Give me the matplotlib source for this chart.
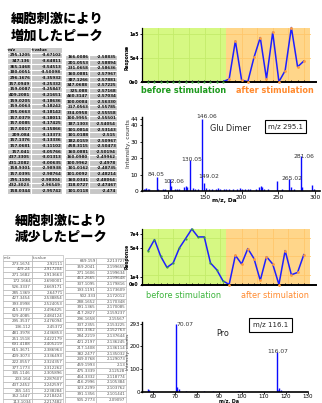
import matplotlib
matplotlib.use('Agg')
import matplotlib.pyplot as plt
from matplotlib.patches import Rectangle
import numpy as np

W, H, DPI = 322, 403, 100

# ---------------- data ----------------
inc_mz_a = ['295.1205', '347.136', '365.1468', '180.0051', '296.1676', '157.0949', '159.0087',
            '409.2081', '159.0205', '159.0063', '195.0663', '157.0379', '157.0085', '157.0017',
            '209.084', '157.1376', '157.0681', '157.041', '437.3305', '431.2082', '158.9301',
            '157.0395', '295.1106', '432.3023', '158.0344']
inc_t_a = ['-3.67102', '-3.64811', '-3.54513', '-3.50098', '-3.35932', '-3.25332', '-3.25847',
           '-3.21651', '-3.18636', '-3.18242', '-3.18142', '-3.18011', '-3.17425', '-3.15866',
           '-3.13373', '-3.13336', '-3.11102', '-3.05766', '-3.01313', '-3.00635', '-2.98938',
           '-2.98764', '-2.98304', '-2.96549', '-2.95742']
inc_mz_b = ['166.0086', '201.0553', '231.0658', '160.0881', '387.1266', '347.0688', '325.088',
            '460.3147', '100.0084', '217.0563', '334.0958', '100.9955', '187.1303', '101.0814',
            '101.0188', '182.0159', '458.3115', '160.0881', '160.0980', '100.9962', '101.0162',
            '101.0092', '160.0341', '118.0727', '101.0118']
inc_t_b = ['-2.58835', '-2.58894', '-2.58636', '-2.57967', '-2.57881', '-2.57225', '-2.57168',
           '-2.57034', '-2.56330', '-2.55785', '-2.55558', '-2.55501', '-2.54054', '-2.53143',
           '-2.515', '-2.50967', '-2.50473', '-2.50194', '-2.49962', '-2.4978', '-2.48735',
           '-2.48214', '-2.48064', '-2.47467', '-2.474']

dec_mz_a = ['273.1674', '429.24', '271.1682', '172.1664', '526.3337', '285.1369', '427.3454',
            '393.0998', '415.3739', '529.4085', '295.3537', '136.112', '481.3978', '251.1518',
            '691.4188', '615.3671', '409.3073', '222.0557', '377.1773', '345.1146', '203.164',
            '437.2452', '265.141', '352.1447', '113.1034']
dec_t_a = ['2.92111', '2.917204', '2.913663', '2.690001', '2.669171', '2.64771', '2.538854',
           '2.524053', '2.496425', '2.484124', '2.476094', '2.45372', '2.436853', '2.422179',
           '2.405219', '2.386963', '2.336493', '2.324357', '2.312262', '2.305896', '2.287607',
           '2.242597', '2.238284', '2.218424', '2.217482']
dec_mz_b = ['669.159', '359.2041', '271.1606', '463.2665', '337.1095', '193.1191', '502.333',
            '288.1652', '391.1365', '417.2827', '296.1658', '337.2355', '531.3362', '284.2219',
            '421.2197', '217.1408', '382.2477', '249.0768', '459.1993', '475.3339', '464.3332',
            '416.2996', '323.2299', '391.1356', '505.2773']
dec_t_b = ['2.213727', '2.199655', '2.199634', '2.199648', '2.179816', '2.173609', '2.172012',
           '2.170348', '2.170085', '2.159237', '2.15567', '2.153225', '2.152763', '2.137644',
           '2.136245', '2.136114', '2.135032', '2.129073', '2.13', '2.12528', '2.118774',
           '2.105384', '2.103762', '2.101441', '2.09097']

n_before = 13
up_response = [0, 0, 0, 0, 0, 0, 0, 0, 0, 0, 0, 0, 0,
               5500, 85000, 3500, 0, 51000, 92000, 6000, 103000, 0, 23000, 113000, 31000, 43000]
down_response = [47000, 62300, 39100, 23700, 29800, 50700, 63700, 77000, 66000, 66000, 29800, 20500, 5100,
                 0, 40500, 28400, 49800, 35800, 5600, 38600, 28400, 0, 47000, 13500, 16700, 41400]

glu_mz = [66, 68.5, 70, 72, 74, 84.05, 86, 92, 94, 96, 102.06, 104, 109, 112, 115, 122, 124, 126,
          130.05, 133, 137, 140, 146.06, 149.02, 151, 156, 160, 165, 168, 170, 176, 179, 183, 188,
          194, 198, 201, 205, 209, 212, 220, 224, 226, 228, 231, 236, 248, 255, 265.02, 267, 272,
          281.06, 283, 296, 299]
glu_int = [1.5, 1.2, 1.8, 1.0, 1.4, 8.5, 1.0, 1.2, 0.8, 1.3, 7.0, 3.0, 1.0, 1.3, 1.0, 2.5, 3.2, 2.2,
           19.0, 2.0, 1.2, 1.5, 44.0, 5.0, 2.0, 1.3, 1.5, 1.2, 1.6, 1.2, 1.0, 1.4, 1.2, 1.5,
           1.3, 1.6, 1.2, 1.4, 1.1, 1.3, 1.0, 2.5, 3.0, 2.2, 1.4, 1.0, 6.0, 1.5, 7.5, 2.5, 1.4,
           21.0, 2.5, 3.5, 1.5]
glu_labels = ['84.05', '102.06', '130.05', '146.06', '149.02', '265.02', '281.06']

pro_mz = [57.5, 58.1, 60.0, 70.07, 70.9, 71.6, 75.0, 83.1, 87.2, 98.2, 98.8, 116.07, 116.6, 117.07,
          117.8, 121.0]
pro_int = [10, 6, 3, 293, 22, 12, 3, 4, 5, 5, 3, 170, 8, 18, 8, 3]
pro_labels = ['70.07', '116.07']

up_yticks = [0, 50000, 100000]
up_yticklabels = ['0e0', '5e4', '1e5']
down_yticks = [0, 10000, 50000, 70000]
down_yticklabels = ['0e0', '1e4', '5e4', '7e4']

# ---------------- styles ----------------
GREEN_BG = '#d6f883'
GREEN_GRID = '#c3ec6a'
ORANGE_BG = '#ffd68a'
ORANGE_GRID = '#ffc76c'
LINE_BLUE = '#1f1fff'
GREEN_MK = '#3aa23a'
ORANGE_MK = '#ff9a3a'
BAR_BLUE = '#0a0aff'
JP = ['Noto Sans CJK JP', 'DejaVu Sans']

fig = plt.figure(figsize=(W / DPI, H / DPI), dpi=DPI)
fig.patch.set_facecolor('white')


def px_axes(x0, y0, x1, y1, **kw):
    return fig.add_axes([x0 / W, 1 - y1 / H, (x1 - x0) / W, (y1 - y0) / H], **kw)


ov = px_axes(0, 0, W, H)
ov.set_xlim(0, W)
ov.set_ylim(H, 0)
ov.axis('off')
ov.set_zorder(0)

# titles
for (tx, ty, s) in [(57, 19, '細胞刺激により'), (57, 36, '増加したピーク'),
                    (61, 221, '細胞刺激により'), (61, 237, '減少したピーク')]:
    ov.text(tx, ty, s, ha='center', va='center', fontsize=9.5, fontweight='heavy', family=JP)
ov.plot([7, 55], [49, 49], color='#cccccc', lw=0.8)
ov.plot([126], [48.5], marker='s', ms=0.8, color='#333333')


def draw_table(x_edges, y0, row_h, rows, header, fc, ec, tc, lw, weight):
    r0 = 0
    if header is not None:
        for c, val in enumerate(header):
            xa, xb = x_edges[c], x_edges[c + 1]
            ov.add_patch(Rectangle((xa, y0), xb - xa, row_h, facecolor=fc, edgecolor=ec, lw=lw))
            ov.text(xa + 0.8, y0 + row_h / 2, val, ha='left', va='center', fontsize=2.9,
                    color=tc, fontweight=weight)
        r0 = 1
    for r, row in enumerate(rows):
        y = y0 + (r + r0) * row_h
        for c, val in enumerate(row):
            xa, xb = x_edges[c], x_edges[c + 1]
            ov.add_patch(Rectangle((xa, y), xb - xa, row_h, facecolor=fc, edgecolor=ec, lw=lw))
            ov.text(xb - 0.8, y + row_h / 2, val, ha='right', va='center', fontsize=2.9,
                    color=tc, fontweight=weight)


draw_table([7, 31, 62], 47, 5.65, list(zip(inc_mz_a, inc_t_a)), ['m/z', 't-value'],
           '#c6c6c6', 'white', '#111111', 0.8, 'bold')
draw_table([65, 89, 117], 54.5, 5.56, list(zip(inc_mz_b, inc_t_b)), None,
           '#c6c6c6', 'white', '#111111', 0.8, 'bold')
draw_table([3.3, 31.7, 63.3], 255, 5.77, list(zip(dec_mz_a, dec_t_a)), ['m/z', 't-value'],
           'white', '#aaaaaa', '#555555', 0.4, 'normal')
draw_table([65, 96.5, 126.2], 258.3, 5.77, list(zip(dec_mz_b, dec_t_b)), None,
           'white', '#aaaaaa', '#555555', 0.4, 'normal')

# ---------------- response charts ----------------
X_LEFT, X_SPLIT, X_BG_END, X_RIGHT = -0.96, n_before - 0.5, 26.0, 26.96


def response_chart(rect, vals, ylim_top, yticks, ylabels, hgrid, label_y, text_y, before_color, bold):
    ax = px_axes(*rect)
    ax.set_zorder(2)
    ax.patch.set_alpha(0)
    x = np.arange(len(vals))
    ax.axvspan(X_LEFT, X_SPLIT, color=GREEN_BG, lw=0, zorder=0)
    ax.axvspan(X_SPLIT, X_BG_END, color=ORANGE_BG, lw=0, zorder=0)
    for gx in np.arange(X_LEFT + 2.5, X_SPLIT, 2.5):
        ax.plot([gx, gx], [0, ylim_top], color=GREEN_GRID, lw=0.6, zorder=0.5)
    for gx in np.arange(X_SPLIT + 2.5, X_BG_END, 2.5):
        ax.plot([gx, gx], [0, ylim_top], color=ORANGE_GRID, lw=0.6, zorder=0.5)
    for gy in hgrid:
        ax.plot([X_LEFT, X_SPLIT], [gy, gy], color=GREEN_GRID, lw=0.6, zorder=0.5)
        ax.plot([X_SPLIT, X_BG_END], [gy, gy], color=ORANGE_GRID, lw=0.6, zorder=0.5)
    ax.plot(x, vals, color=LINE_BLUE, lw=1.1, zorder=2, clip_on=False)
    ax.scatter(x[:n_before], vals[:n_before], s=2.5, color=GREEN_MK, zorder=3, clip_on=False, lw=0)
    ax.scatter(x[n_before:], vals[n_before:], s=4, color=ORANGE_MK, zorder=3, clip_on=False, lw=0)
    ax.set_xlim(X_LEFT, X_RIGHT)
    ax.set_ylim(0, ylim_top)
    ax.set_xticks(x)
    ax.set_xticklabels([])
    ax.tick_params(axis='x', direction='in', length=1.2, width=0.6)
    ax.set_yticks(yticks)
    ax.set_yticklabels(ylabels, fontsize=3.3, fontweight='bold')
    ax.tick_params(axis='y', length=1.5, width=0.6, pad=1)
    for s in ['top', 'right']:
        ax.spines[s].set_visible(False)
    ax.spines['left'].set_linewidth(0.9)
    ax.spines['bottom'].set_linewidth(1.4)
    ax.spines['left'].set_bounds(0, ylim_top)
    ov.text(127.5, label_y, 'Response', rotation=90, ha='center', va='center', fontsize=3.3,
            fontweight='bold')
    wt = 'bold' if bold else 'normal'
    ov.text(184, text_y, 'before stimulation', ha='center', va='center', fontsize=5.9,
            color=before_color, fontweight=wt)
    ov.text(275, text_y, 'after stimulation', ha='center', va='center', fontsize=5.9,
            color='#ff8a2e', fontweight=wt)
    return ax


response_chart((142.3, 28, 316, 81.7), up_response, 112000, up_yticks, up_yticklabels,
               [50000, 100000], 57, 90.5, '#1e9a1e', True)
response_chart((142.3, 229, 316, 284.5), down_response, 77000, down_yticks, down_yticklabels,
               [13000, 39000, 65000], 256, 295, '#3cb43c', False)


# ---------------- spectra ----------------
def spectrum(rect, mz, inten, xlim, ylim, xticks, yticks, labels, label_dx, label_dy, tick_fs,
             tick_len=1.8, tick_pad=0.8):
    ax = px_axes(*rect)
    ax.set_zorder(2)
    ax.patch.set_alpha(0)
    ax.vlines(mz, 0, inten, color=BAR_BLUE, lw=1.0, zorder=2)
    ax.set_xlim(*xlim)
    ax.set_ylim(*ylim)
    ax.set_xticks(xticks)
    ax.set_yticks(yticks)
    ax.tick_params(labelsize=tick_fs, length=tick_len, width=0.6, pad=tick_pad)
    for s in ['top', 'right']:
        ax.spines[s].set_visible(False)
    ax.spines['left'].set_linewidth(1.0)
    ax.spines['bottom'].set_linewidth(1.2)
    lut = dict(zip(mz, inten))
    for lab in labels:
        m = float(lab)
        ax.text(m + label_dx.get(lab, 2.0), lut[m] + label_dy.get(lab, 0.0), lab,
                ha='center', va='center', fontsize=4.3, color='#333333', clip_on=False, zorder=3)
    return ax


spectrum((141.7, 117, 320, 191), glu_mz, glu_int, (63.5, 307.3), (0, 45),
         [100, 150, 200, 250, 300], [0, 10, 20, 30, 40, 44], glu_labels,
         {'84.05': -0.5, '146.06': 6.0, '149.02': 6.0, '102.06': 5.5, '265.02': 4.0, '281.06': 4.0},
         {'84.05': 1.3, '102.06': -1.3, '146.06': 1.5, '149.02': 4.0}, 4.2)
ov.text(224, 200.5, 'm/z, Da', ha='center', va='center', fontsize=4.2, fontweight='bold')
ov.text(128.5, 144, 'Intensity, counts', rotation=90, ha='center', va='center', fontsize=4.2,
        color='#333333')
ov.text(230, 128.5, 'Glu Dimer', ha='center', va='center', fontsize=5.8, color='#222222')
ov.text(285.5, 126.5, 'm/z 295.1', ha='center', va='center', fontsize=5.0, color='#222222',
        bbox=dict(boxstyle='square,pad=0.5', facecolor='white', edgecolor='black', lw=0.8))

ax_pro = spectrum((142.3, 321.7, 307.7, 391.8), pro_mz, pro_int, (55, 130), (0, 303),
                  [60, 70, 80, 90, 100, 110, 120, 130], [0, 100, 200, 293], ['116.07'],
                  {'116.07': 0.2}, {'116.07': 4}, 4.0, tick_len=1.2, tick_pad=0.4)
ax_pro.text(70.07 + 0.3, 293, '70.07', ha='left', va='center', fontsize=4.3, color='#333333',
            clip_on=False)
ov.text(229.5, 401.2, 'm/z, Da', ha='center', va='center', fontsize=3.4, fontweight='bold')
ov.text(127.6, 352, 'Intensity, counts', rotation=90, ha='center', va='center', fontsize=3.2,
        color='#333333')
ov.text(223, 333, 'Pro', ha='center', va='center', fontsize=5.8, color='#222222')
ov.text(270.5, 325, 'm/z 116.1', ha='center', va='center', fontsize=5.0, color='#222222',
        bbox=dict(boxstyle='square,pad=0.6', facecolor='white', edgecolor='black', lw=0.8))

fig.savefig('out.png', dpi=DPI)
